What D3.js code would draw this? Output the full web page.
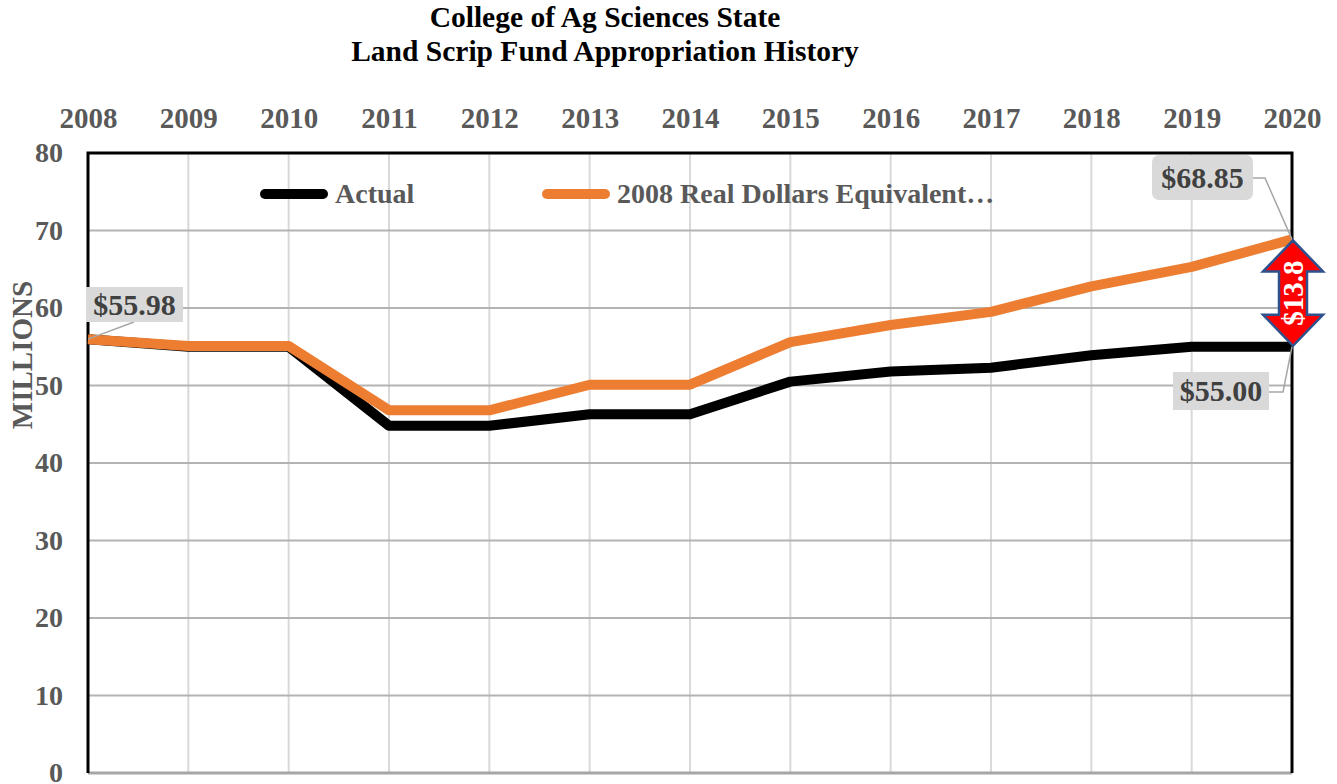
<!DOCTYPE html>
<html><head><meta charset="utf-8">
<script src="https://cdn.jsdelivr.net/npm/d3@7"></script>
<style>body{margin:0;background:#fff}svg{display:block}text{font-family:"Liberation Serif","Times New Roman",serif;font-weight:bold}</style>
</head><body><svg id="c" width="1337" height="784"></svg>
<script>
const years = [2008,2009,2010,2011,2012,2013,2014,2015,2016,2017,2018,2019,2020];
const actual = [55.98,55.0,55.0,44.8,44.8,46.3,46.3,50.5,51.8,52.3,53.9,55.0,55.0];
const real = [55.98,55.1,55.1,46.8,46.8,50.1,50.1,55.6,57.8,59.5,62.8,65.3,68.85];
const yTicks = [0,10,20,30,40,50,60,70,80];
const titleLines = ["College of Ag Sciences State","Land Scrip Fund Appropriation History"];
const seriesNames = ["Actual","2008 Real Dollars Equivalent…"];
const diffLabel = "$13.8";

const svg = d3.select("#c");
const L=88,R=1292,T=153,B=773;
const x = d3.scaleLinear().domain([2008,2020]).range([L,R]);
const y = d3.scaleLinear().domain([0,80]).range([B,T]);
const grey="#595959";

// title
svg.selectAll(".title").data(titleLines).enter().append("text")
 .attr("x",605).attr("y",(d,i)=>27+i*34).attr("text-anchor","middle")
 .attr("font-size",29.5).attr("fill","#000").text(d=>d);

// gridlines
svg.append("g").selectAll("line").data(years).enter().append("line")
 .attr("x1",d=>x(d)).attr("x2",d=>x(d)).attr("y1",T).attr("y2",B)
 .attr("stroke","#d9d9d9").attr("stroke-width",2);
svg.append("g").selectAll("line").data(yTicks.filter(d=>d>0&&d<80)).enter().append("line")
 .attr("x1",L).attr("x2",R).attr("y1",d=>y(d)).attr("y2",d=>y(d))
 .attr("stroke","#b3b3b3").attr("stroke-width",2);

// axes
const xa = svg.append("g").attr("transform",`translate(0,${T})`).call(d3.axisTop(x).tickValues(years).tickFormat(d3.format("d")).tickSize(0).tickPadding(25));
xa.select(".domain").remove();
xa.selectAll("text").attr("font-size",29).attr("fill",grey).style("font-family","Liberation Serif").style("font-weight","bold");
const ya = svg.append("g").attr("transform",`translate(${L},0)`).call(d3.axisLeft(y).tickValues(yTicks).tickSize(0).tickPadding(25));
ya.select(".domain").remove();
ya.selectAll("text").attr("font-size",28).attr("fill",grey).attr("dy","0.32em").style("font-family","Liberation Serif").style("font-weight","bold");

// bottom axis line
svg.append("line").attr("x1",L).attr("x2",R).attr("y1",B).attr("y2",B).attr("stroke","#a6a6a6").attr("stroke-width",3);
// border
svg.append("path").attr("d",`M${L},${B}V${T}H${R}V${B}`).attr("fill","none").attr("stroke","#000").attr("stroke-width",3);

// y label
svg.append("text").attr("transform","translate(32,355) rotate(-90)").attr("text-anchor","middle")
 .attr("font-size",29).attr("fill",grey).text("MILLIONS");

// lines
const line = d3.line().x((d,i)=>x(years[i])).y(d=>y(d));
svg.append("path").datum(actual).attr("d",line).attr("fill","none").attr("stroke","#000").attr("stroke-width",10).attr("stroke-linejoin","round");
svg.append("path").datum(real).attr("d",line).attr("fill","none").attr("stroke","#ED7D31").attr("stroke-width",10).attr("stroke-linejoin","round");

// legend
const leg=[{c:"#000",x:260,t:seriesNames[0]},{c:"#ED7D31",x:542,t:seriesNames[1]}];
leg.forEach(d=>{
 svg.append("line").attr("x1",d.x+5).attr("x2",d.x+63).attr("y1",194).attr("y2",194).attr("stroke",d.c).attr("stroke-width",10).attr("stroke-linecap","round");
 svg.append("text").attr("x",d.x+75).attr("y",203).attr("font-size",28).attr("fill",grey).text(d.t);
});

// data labels
function label(txt,bx,by,bw,bh,rx,leader){
 svg.append("path").attr("d",leader).attr("fill","none").attr("stroke","#a6a6a6").attr("stroke-width",1.5);
 svg.append("rect").attr("x",bx).attr("y",by).attr("width",bw).attr("height",bh).attr("rx",rx).attr("fill","#d9d9d9");
 svg.append("text").attr("x",bx+bw/2).attr("y",by+bh/2+10).attr("text-anchor","middle").attr("font-size",30).attr("fill","#404040").text(txt);
}
const n=years.length-1;
label("$"+actual[0].toFixed(2),86,287,97,35,0,`M${x(years[0])},${y(actual[0])}L134,322`);
label("$"+real[n].toFixed(2),1152,155,101,45,7,`M1253,178H1265L${x(years[n])},${y(real[n])}`);
label("$"+actual[n].toFixed(2),1173,372,96,38,0,`M1269,392H1283L${x(years[n])},${y(actual[n])}`);

// double arrow
const ax=x(years[n])+1, yt=y(real[n])+1, yb=y(actual[n])-1, hw=30, sw=14, hh=31;
svg.append("path").attr("d",`M${ax},${yt}L${ax+hw},${yt+hh}H${ax+sw}V${yb-hh}H${ax+hw}L${ax},${yb}L${ax-hw},${yb-hh}H${ax-sw}V${yt+hh}H${ax-hw}Z`)
 .attr("fill","#ff0000").attr("stroke","#2f528f").attr("stroke-width",2.5).attr("stroke-linejoin","miter");
svg.append("text").attr("transform",`translate(${ax+10},${(yt+yb)/2}) rotate(-90)`).attr("text-anchor","middle")
 .attr("font-size",29).attr("fill","#fff").text(diffLabel);
</script></body></html>
